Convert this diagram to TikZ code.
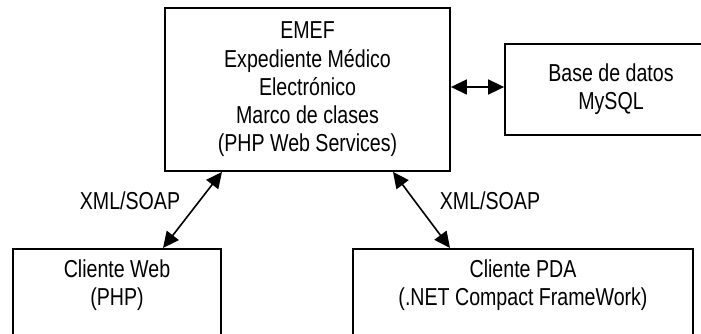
\documentclass[tikz,border=0pt]{standalone}
\usepackage{fontspec}
\setmainfont{Liberation Sans}[FakeStretch=0.8]
\usetikzlibrary{positioning,calc,arrows.meta}

\begin{document}
\begin{tikzpicture}[x=1pt,y=-1pt,
    caja/.style={draw,line width=1.8pt,inner sep=0pt},
    texto/.style={align=center,font=\fontsize{24.5}{28.3}\selectfont},
    flecha/.style={{Triangle[length=16pt,width=15pt]}-{Triangle[length=16pt,width=15pt]},line width=1.6pt}]
    \useasboundingbox (0,0) rectangle (701,334);
    \clip (0,0) rectangle (701,334);
    \node[caja,texto,minimum width=285pt,minimum height=163pt] (emef) at (307.5,89.5) {EMEF\\Expediente Médico\\Electrónico\\Marco de clases\\(PHP Web Services)};
    \node[caja,texto,minimum width=212pt,minimum height=91pt] (bd) at (611,89.5) {Base de datos\\MySQL};
    \node[caja,minimum width=208pt,minimum height=120pt,anchor=north] (web) at (117,248) {};
    \node[caja,minimum width=340pt,minimum height=120pt,anchor=north] (pda) at (523,248) {};
    \node[texto,below=8pt of web.north] (web_t) {Cliente Web\\(PHP)};
    \node[texto,below=8pt of pda.north] (pda_t) {Cliente PDA\\(.NET Compact FrameWork)};
    \draw[flecha] ($(emef.east)+(0,-2.5)$) -- ($(bd.west)+(0,-2.5)$);
    \draw[flecha] ($(web.north)+(46,0)$) -- ($(emef.south)+(-85.5,0)$);
    \draw[flecha] ($(emef.south)+(85.5,0)$) -- ($(pda.north)+(-73,0)$);
    \node[texto] (xml_w) at (130,201) {XML/SOAP};
    \node[texto] (xml_p) at (490,201) {XML/SOAP};
\end{tikzpicture}
\end{document}
